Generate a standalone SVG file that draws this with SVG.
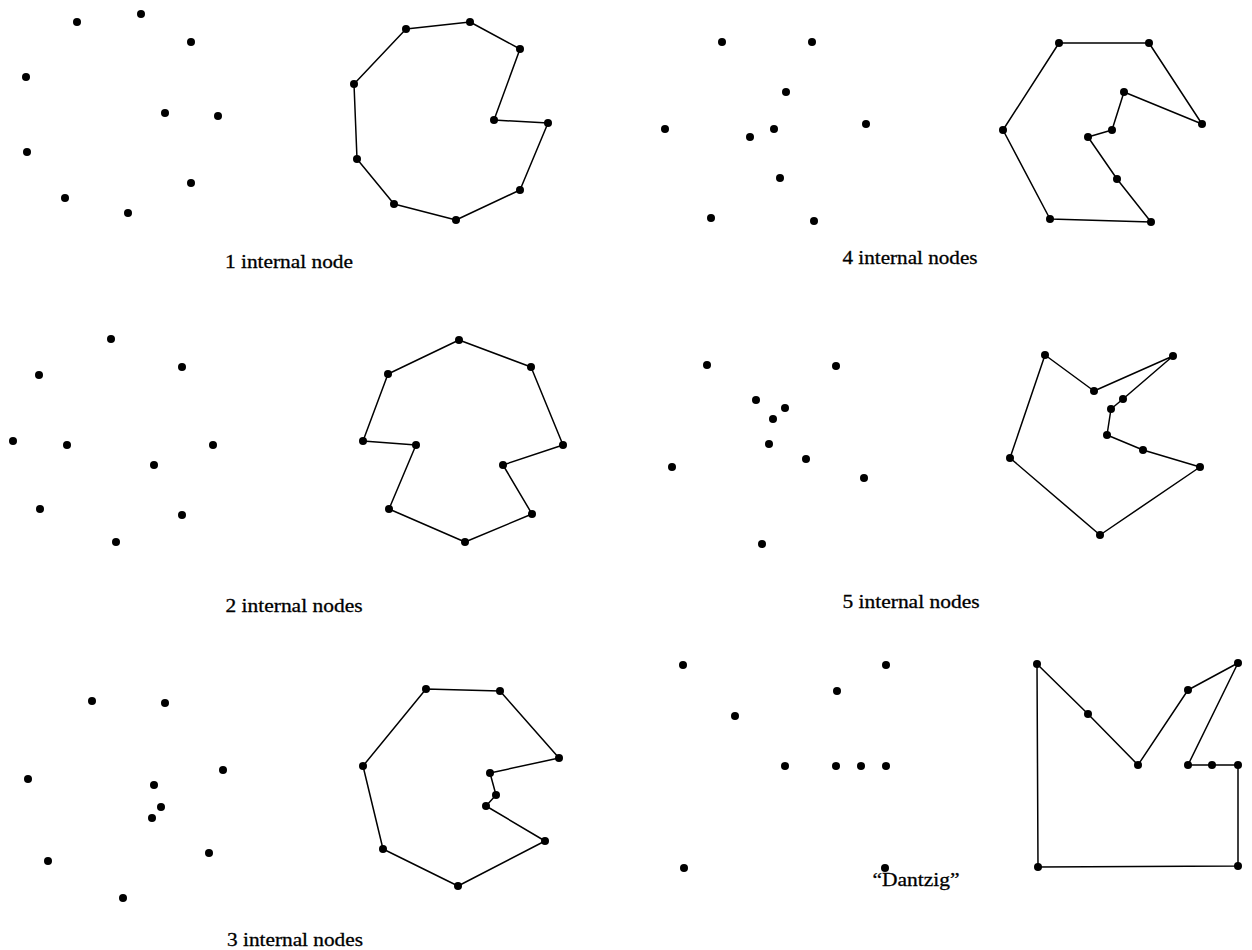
<svg xmlns="http://www.w3.org/2000/svg" width="1252" height="950" viewBox="0 0 1252 950">
<style>
.bg{fill:#fff}
.dot{fill:#000}
.edge{fill:none;stroke:#000;stroke-width:1.5;stroke-linejoin:round}
.lbl{font-family:"Liberation Serif","DejaVu Serif",serif;font-size:19px;fill:#000;text-anchor:middle;stroke:#000;stroke-width:0.3}
</style>
<defs>
<circle id="d" r="4" class="dot"/>
</defs>
<rect class="bg" width="1252" height="950"/>

<g id="connectors">
<polygon id="tour1" class="edge" points="406,29 470,22 520,49 494,120 548,123 520,190 456,220 394,204 357,159 354,84"/>
<polygon id="tour4" class="edge" points="1059,43 1149,43 1202,124 1124,92 1112,130 1088,137 1117,179 1151,222 1050,219 1003,130"/>
<polygon id="tour2" class="edge" points="459,340 531,367 563,445 503,465 532,514 465,542 389,509 416,445 363,441 388,374"/>
<polygon id="tour5" class="edge" points="1045,355 1094,391 1173,356 1123,399 1111,409 1107,435 1143,450 1200,467 1100,535 1010,458"/>
<polygon id="tour3" class="edge" points="426,689 500,691 559,758 490,773 496,795 486,806 545,841 458,886 383,849 363,766"/>
<polygon id="tourD" class="edge" points="1037,664 1088,714 1138,765 1188,690 1238,663 1188,765 1212,765 1238,765 1238,866 1038,867"/>
</g>

<g id="points1">
<use href="#d" x="77" y="22"/><use href="#d" x="141" y="14"/><use href="#d" x="191" y="42"/><use href="#d" x="26" y="77"/><use href="#d" x="165" y="113"/><use href="#d" x="218" y="116"/><use href="#d" x="27" y="152"/><use href="#d" x="191" y="183"/><use href="#d" x="65" y="198"/><use href="#d" x="128" y="213"/>
</g>
<g id="nodes1">
<use href="#d" x="406" y="29"/><use href="#d" x="470" y="22"/><use href="#d" x="520" y="49"/><use href="#d" x="494" y="120"/><use href="#d" x="548" y="123"/><use href="#d" x="520" y="190"/><use href="#d" x="456" y="220"/><use href="#d" x="394" y="204"/><use href="#d" x="357" y="159"/><use href="#d" x="354" y="84"/>
</g>
<text id="label1" class="lbl" x="289" y="268" textLength="128" lengthAdjust="spacingAndGlyphs">1 internal node</text>

<g id="points4">
<use href="#d" x="722" y="42"/><use href="#d" x="812" y="42"/><use href="#d" x="786" y="92"/><use href="#d" x="665" y="129"/><use href="#d" x="750" y="137"/><use href="#d" x="774" y="129"/><use href="#d" x="866" y="124"/><use href="#d" x="780" y="178"/><use href="#d" x="711" y="218"/><use href="#d" x="814" y="221"/>
</g>
<g id="nodes4">
<use href="#d" x="1059" y="43"/><use href="#d" x="1149" y="43"/><use href="#d" x="1202" y="124"/><use href="#d" x="1124" y="92"/><use href="#d" x="1112" y="130"/><use href="#d" x="1088" y="137"/><use href="#d" x="1117" y="179"/><use href="#d" x="1151" y="222"/><use href="#d" x="1050" y="219"/><use href="#d" x="1003" y="130"/>
</g>
<text id="label4" class="lbl" x="910" y="264" textLength="135" lengthAdjust="spacingAndGlyphs">4 internal nodes</text>

<g id="points2">
<use href="#d" x="111" y="339"/><use href="#d" x="182" y="367"/><use href="#d" x="39" y="375"/><use href="#d" x="13" y="441"/><use href="#d" x="67" y="445"/><use href="#d" x="213" y="445"/><use href="#d" x="154" y="465"/><use href="#d" x="40" y="509"/><use href="#d" x="182" y="515"/><use href="#d" x="116" y="542"/>
</g>
<g id="nodes2">
<use href="#d" x="459" y="340"/><use href="#d" x="531" y="367"/><use href="#d" x="563" y="445"/><use href="#d" x="503" y="465"/><use href="#d" x="532" y="514"/><use href="#d" x="465" y="542"/><use href="#d" x="389" y="509"/><use href="#d" x="416" y="445"/><use href="#d" x="363" y="441"/><use href="#d" x="388" y="374"/>
</g>
<text id="label2" class="lbl" x="294" y="612" textLength="137" lengthAdjust="spacingAndGlyphs">2 internal nodes</text>

<g id="points5">
<use href="#d" x="707" y="365"/><use href="#d" x="836" y="366"/><use href="#d" x="756" y="400"/><use href="#d" x="785" y="408"/><use href="#d" x="773" y="419"/><use href="#d" x="769" y="444"/><use href="#d" x="806" y="459"/><use href="#d" x="672" y="467"/><use href="#d" x="864" y="478"/><use href="#d" x="762" y="544"/>
</g>
<g id="nodes5">
<use href="#d" x="1045" y="355"/><use href="#d" x="1173" y="356"/><use href="#d" x="1094" y="391"/><use href="#d" x="1123" y="399"/><use href="#d" x="1111" y="409"/><use href="#d" x="1107" y="435"/><use href="#d" x="1143" y="450"/><use href="#d" x="1200" y="467"/><use href="#d" x="1100" y="535"/><use href="#d" x="1010" y="458"/>
</g>
<text id="label5" class="lbl" x="911" y="608" textLength="137" lengthAdjust="spacingAndGlyphs">5 internal nodes</text>

<g id="points3">
<use href="#d" x="92" y="701"/><use href="#d" x="165" y="703"/><use href="#d" x="28" y="779"/><use href="#d" x="223" y="770"/><use href="#d" x="154" y="785"/><use href="#d" x="161" y="807"/><use href="#d" x="152" y="818"/><use href="#d" x="209" y="853"/><use href="#d" x="48" y="861"/><use href="#d" x="123" y="898"/>
</g>
<g id="nodes3">
<use href="#d" x="426" y="689"/><use href="#d" x="500" y="691"/><use href="#d" x="559" y="758"/><use href="#d" x="490" y="773"/><use href="#d" x="496" y="795"/><use href="#d" x="486" y="806"/><use href="#d" x="545" y="841"/><use href="#d" x="458" y="886"/><use href="#d" x="383" y="849"/><use href="#d" x="363" y="766"/>
</g>
<text id="label3" class="lbl" x="295" y="946" textLength="136" lengthAdjust="spacingAndGlyphs">3 internal nodes</text>

<g id="pointsD">
<use href="#d" x="683" y="665"/><use href="#d" x="886" y="665"/><use href="#d" x="837" y="691"/><use href="#d" x="735" y="716"/><use href="#d" x="785" y="766"/><use href="#d" x="836" y="766"/><use href="#d" x="861" y="766"/><use href="#d" x="886" y="766"/><use href="#d" x="684" y="868"/><use href="#d" x="885" y="868"/>
</g>
<g id="nodesD">
<use href="#d" x="1037" y="664"/><use href="#d" x="1088" y="714"/><use href="#d" x="1138" y="765"/><use href="#d" x="1188" y="690"/><use href="#d" x="1238" y="663"/><use href="#d" x="1188" y="765"/><use href="#d" x="1212" y="765"/><use href="#d" x="1238" y="765"/><use href="#d" x="1238" y="866"/><use href="#d" x="1038" y="867"/>
</g>
<text id="labelD" class="lbl" x="916" y="886" textLength="87" lengthAdjust="spacingAndGlyphs">“Dantzig”</text>
</svg>
